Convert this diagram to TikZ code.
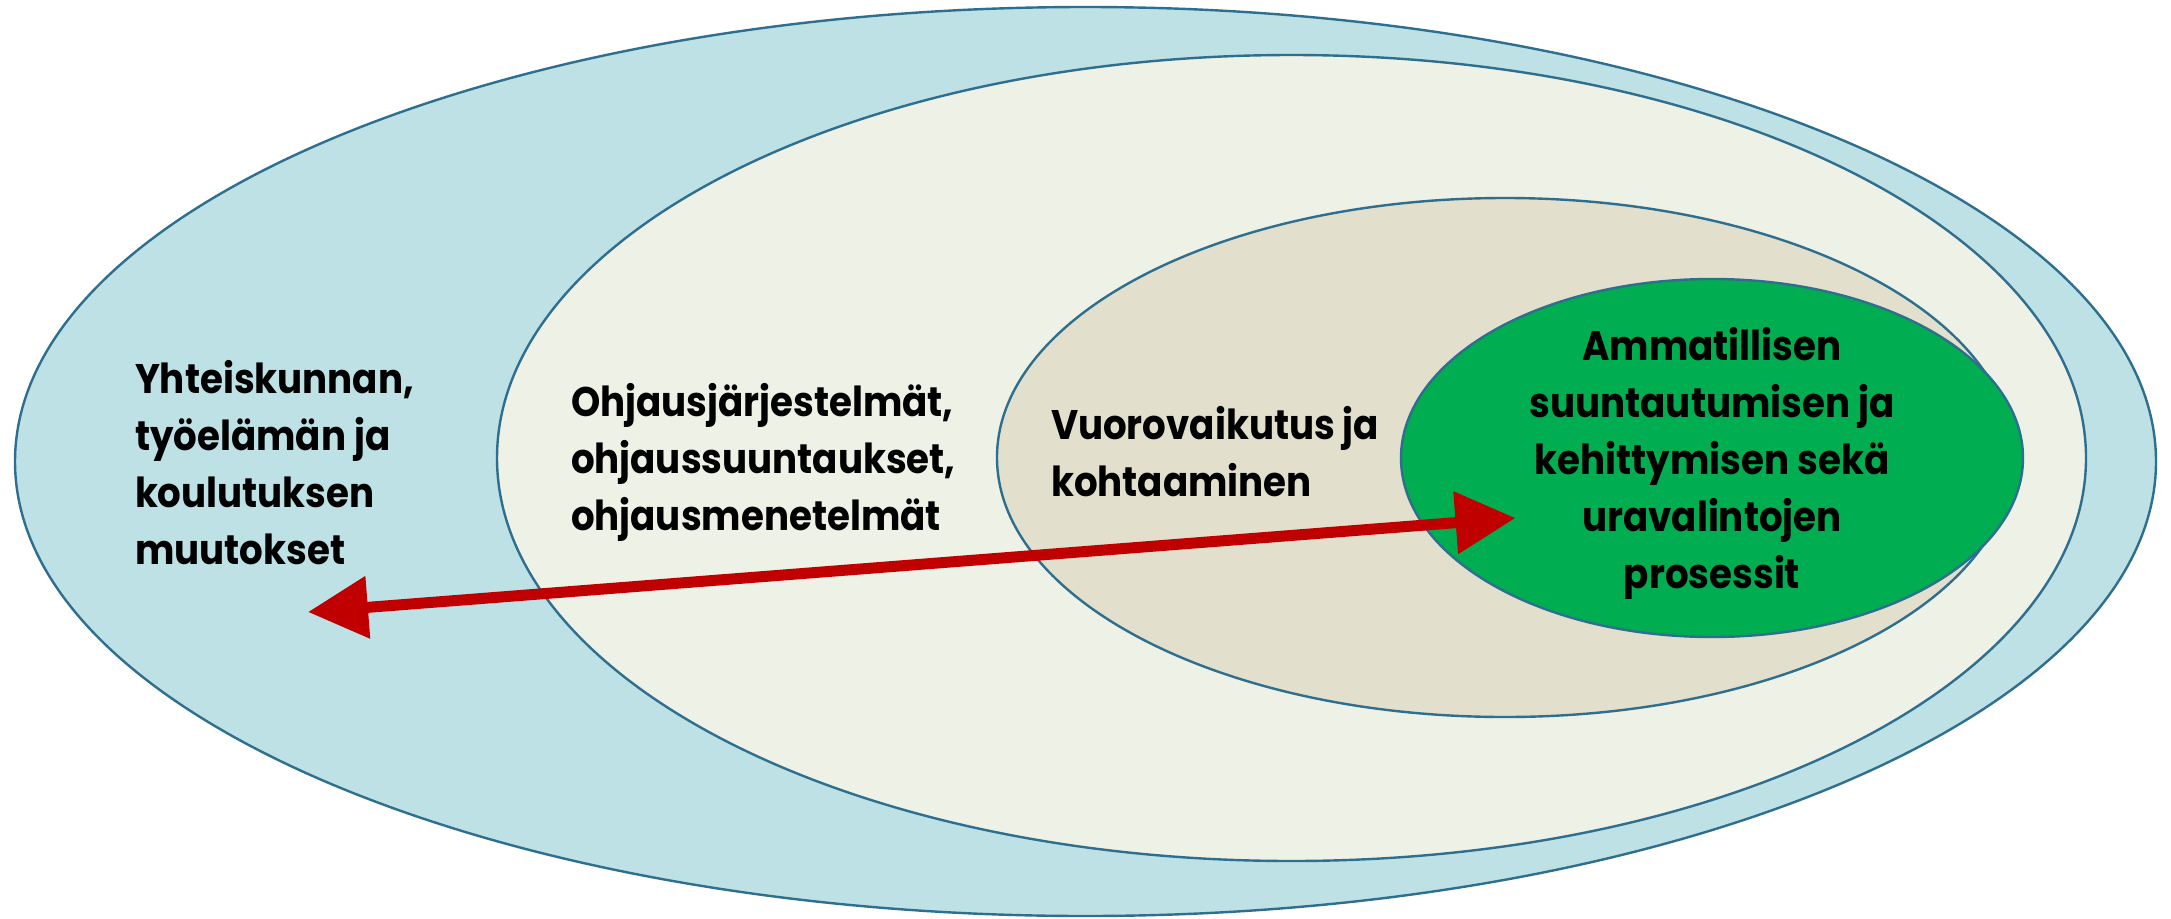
\documentclass[tikz,border=0pt]{standalone}
\usepackage{fontspec}
\usetikzlibrary{shapes.geometric,arrows.meta}
\newfontfamily\ff[FakeStretch=0.9]{Poppins}
\definecolor{edgeblue}{HTML}{2E6E8E}
\definecolor{outerfill}{HTML}{BDE1E5}
\definecolor{midfill}{HTML}{EEF1E6}
\definecolor{innerfill}{HTML}{E2DFCC}
\definecolor{corefill}{HTML}{00AD50}
\definecolor{arrowred}{HTML}{C00000}
\tikzset{
  ring/.style={ellipse, draw=edgeblue, line width=1.8pt, inner sep=0pt, outer sep=0pt},
  lbl/.style={inner sep=0pt, outer sep=0pt, font=\ff\bfseries\fontsize{31}{42.75}\selectfont, text=black},
  bigarrow/.style={draw=arrowred, line width=8.25pt,
    {Triangle[length=45pt,width=45pt]}-{Triangle[length=45pt,width=45pt]}}
}
\begin{document}
\begin{tikzpicture}[x=0.75pt,y=-0.75pt]
\useasboundingbox (0,0) rectangle (2171,918);
\fill[white] (0,0) rectangle (2171,918);
\node[ring, fill=outerfill, minimum width=1605.75pt, minimum height=681.75pt] (e1) at (1085.5,461.5) {};
\node[ring, fill=midfill, minimum width=1191.75pt, minimum height=604.5pt] (e2) at (1291.5,458) {};
\node[ring, fill=innerfill, minimum width=762pt, minimum height=389.25pt] (e3) at (1505,457.5) {};
\node[ring, fill=corefill, minimum width=466.5pt, minimum height=268.5pt] (e4) at (1712,458) {};
\node[lbl, anchor=base west, align=left] (t1) at (135,564) {Yhteiskunnan,\\työelämän ja\\koulutuksen\\muutokset};
\node[lbl, anchor=base west, align=left] (t2) at (571,530) {Ohjausjärjestelmät,\\ohjaussuuntaukset,\\ohjausmenetelmät};
\node[lbl, anchor=base west, align=left] (t3) at (1051,496) {Vuorovaikutus ja\\kohtaaminen};
\node[lbl, anchor=base, align=center] (t4) at (1712,588) {Ammatillisen\\suuntautumisen ja\\kehittymisen sekä\\uravalintojen\\prosessit};
\coordinate (aL) at (308,612);
\coordinate (aR) at (1515.5,518);
\draw[bigarrow] (aL) -- (aR);
\end{tikzpicture}
\end{document}
